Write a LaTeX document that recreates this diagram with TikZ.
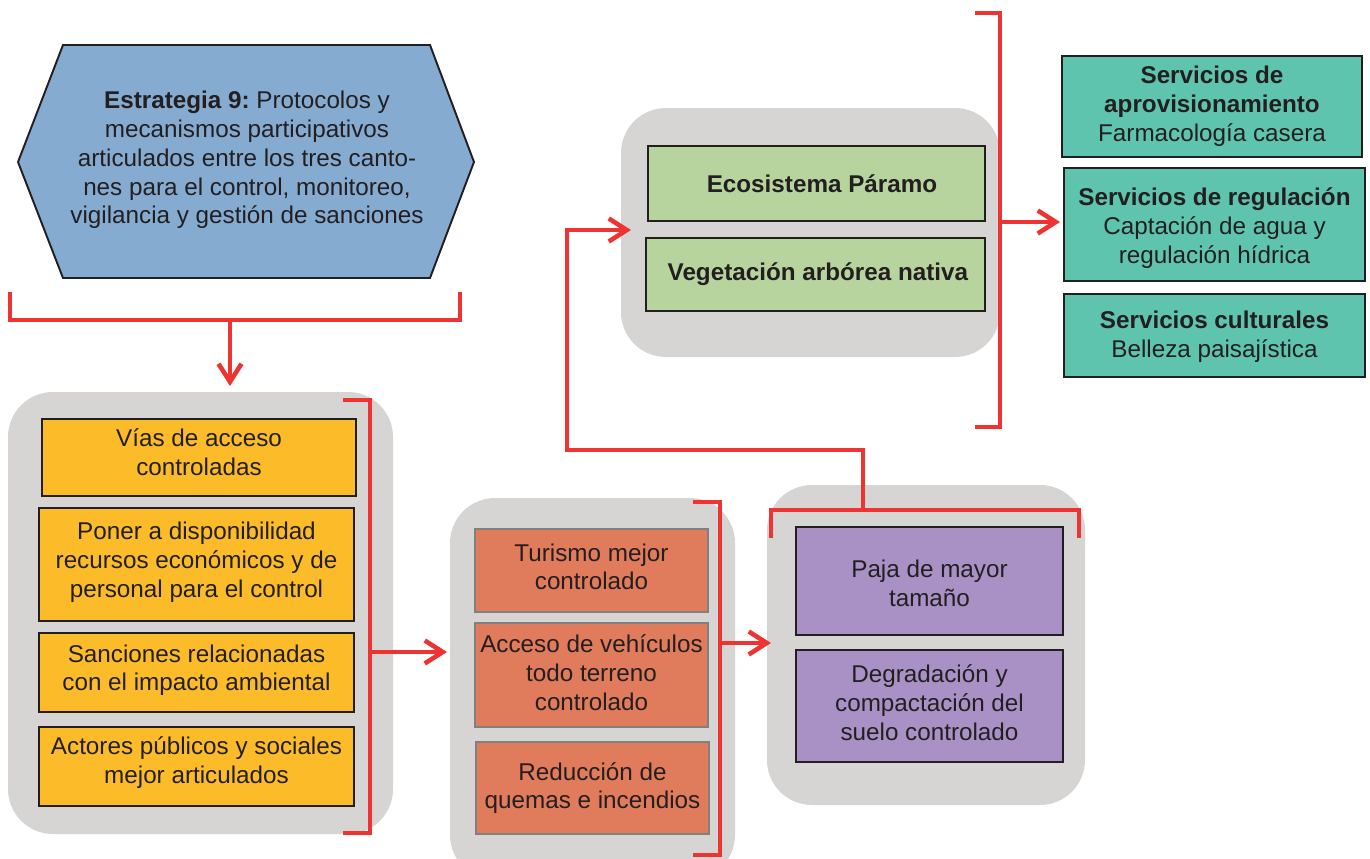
\documentclass[tikz,border=0pt]{standalone}
\usepackage{fontspec}
\setmainfont{Liberation Sans}
\usetikzlibrary{arrows.meta,fit}
\definecolor{hexblue}{HTML}{85ABD1}
\definecolor{panelgray}{HTML}{D6D5D4}
\definecolor{yel}{HTML}{FCBC2A}
\definecolor{ora}{HTML}{E07B5B}
\definecolor{pur}{HTML}{A991C5}
\definecolor{grn}{HTML}{B8D49E}
\definecolor{teal}{HTML}{5EC4AE}
\definecolor{redc}{HTML}{EE3432}
\definecolor{ink}{HTML}{231F20}
\frenchspacing
\begin{document}
\begin{tikzpicture}[x=0.02cm,y=-0.02cm,
  every node/.style={text=ink,font=\fontsize{13.8}{16.4}\selectfont},
  panel/.style={fill=panelgray,draw=none,inner sep=0pt,rounded corners=0.9cm},
  boxbase/.style={draw=ink,line width=1.1pt,inner sep=0pt,align=center},
  ybox/.style={boxbase,fill=yel},
  obox/.style={boxbase,fill=ora,draw=black!50},
  pbox/.style={boxbase,fill=pur},
  gbox/.style={boxbase,fill=grn},
  tbox/.style={boxbase,fill=teal},
  redline/.style={draw=redc,line width=2.3pt},
  redarrow/.style={redline,-{Straight Barb[length=0.36cm,width=0.46cm,line width=2.6pt]}}
]
\clip (0,0) rectangle (1370,859);
\fill[white] (0,0) rectangle (1370,859);

% panels
\node[panel,fit={(8,392)(393,834)}] (P1) {};
\node[panel,fit={(450,498)(735,880)}] (P2) {};
\node[panel,fit={(767,485)(1085,805)}] (P3) {};
\node[panel,fit={(621,108)(1000,357)}] (P4) {};

% hexagon
\draw[fill=hexblue,draw=ink,line width=1.1pt] (63,45) -- (430,45) -- (474,162) -- (430,278) -- (63,278) -- (18,162) -- cycle;
\node[align=center] (hex) at (247,160) {\textbf{Estrategia 9:} Protocolos y\\mecanismos participativos\\articulados entre los tres canto-\\nes para el control, monitoreo,\\vigilancia y gestión de sanciones};

% yellow boxes
\node[ybox,fit={(42,419)(356,496)}] (Y1) {};
\node at ([yshift=3pt]Y1.center) [align=center] {Vías de acceso\\controladas};
\node[ybox,fit={(39,508)(354,621)}] (Y2) {};
\node at ([yshift=1.3pt]Y2.center) [align=center] {Poner a disponibilidad\\recursos económicos y de\\personal para el control};
\node[ybox,fit={(39,633)(354,712)}] (Y3) {};
\node at ([yshift=1.3pt]Y3.center) [align=center] {Sanciones relacionadas\\con el impacto ambiental};
\node[ybox,fit={(39,727)(354,806)}] (Y4) {};
\node at ([yshift=2pt]Y4.center) [align=center] {Actores públicos y sociales\\mejor articulados};

% orange boxes
\node[obox,fit={(475,529)(708,612)}] (O1) {};
\node at ([yshift=2.1pt]O1.center) [align=center] {Turismo mejor\\controlado};
\node[obox,fit={(475,623)(708,727)}] (O2) {};
\node at ([yshift=1.4pt]O2.center) [align=center] {Acceso de vehículos\\todo terreno\\controlado};
\node[obox,fit={(476,742)(709,834)}] (O3) {};
\node at (O3.center) [align=center] {Reducción de\\quemas e incendios};

% purple boxes
\node[pbox,fit={(796,527)(1063,635)}] (U1) {};
\node at ([yshift=-1.4pt]U1.center) [align=center] {Paja de mayor\\tamaño};
\node[pbox,fit={(796,650)(1063,762)}] (U2) {};
\node at ([yshift=2pt]U2.center) [align=center] {Degradación y\\compactación del\\suelo controlado};

% green boxes
\node[gbox,fit={(648,146)(985,221)}] (G1) {};
\node at ([xshift=0.11cm]G1.center) {\textbf{Ecosistema Páramo}};
\node[gbox,fit={(646,238)(985,311)}] (G2) {};
\node at ([xshift=0.05cm]G2.center) {\textbf{Vegetación arbórea nativa}};

% teal boxes
\node[tbox,fit={(1062,56)(1362,157)}] (T1) {};
\node at (T1.center) [align=center] {\textbf{Servicios de}\\\textbf{aprovisionamiento}\\Farmacología casera};
\node[tbox,fit={(1064,168)(1365,281)}] (T2) {};
\node at ([yshift=-2pt]T2.center) [align=center] {\textbf{Servicios de regulación}\\Captación de agua y\\regulación hídrica};
\node[tbox,fit={(1064,294)(1365,377)}] (T3) {};
\node at ([yshift=-0.7pt]T3.center) [align=center] {\textbf{Servicios culturales}\\Belleza paisajística};

% red brackets and arrows
\coordinate (b1m) at (230,320);
\coordinate (b1e) at (230,386);
\draw[redline] (10,292) -- (10,320) -- (460,320) -- (460,292);
\draw[redarrow] (b1m) -- (b1e);

\coordinate (b2m) at (370,652);
\coordinate (b2e) at (447,652);
\draw[redline] (343,400) -- (370,400) -- (370,833) -- (343,833);
\draw[redarrow] (b2m) -- (b2e);

\coordinate (b3m) at (720,643);
\coordinate (b3e) at (771,643);
\draw[redline] (693,502) -- (720,502) -- (720,855) -- (693,855);
\draw[redarrow] (b3m) -- (b3e);

\coordinate (b4m) at (863,510);
\coordinate (b4e) at (631,230);
\draw[redline] (771,538) -- (771,510) -- (1079,510) -- (1079,538);
\draw[redarrow] (b4m) -- (863,450) -- (567,450) -- (567,230) -- (b4e);

\coordinate (b5m) at (1000,222);
\coordinate (b5e) at (1060,222);
\draw[redline] (975,13) -- (1000,13) -- (1000,427) -- (975,427);
\draw[redarrow] (b5m) -- (b5e);
\end{tikzpicture}
\end{document}
